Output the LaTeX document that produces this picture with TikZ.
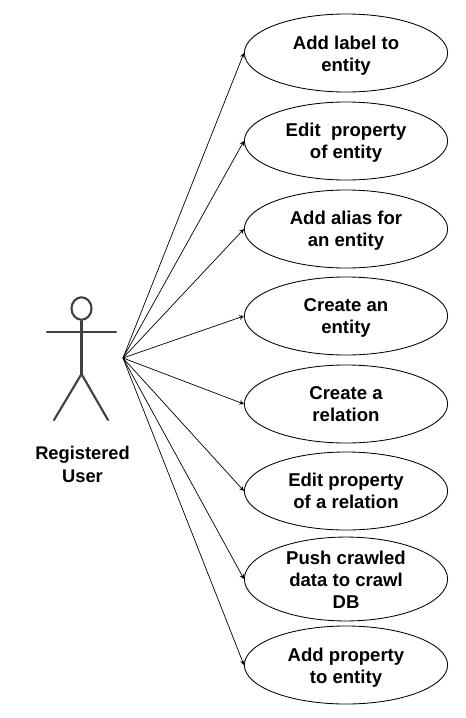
\documentclass[tikz,border=0pt]{standalone}
\usepackage{fontspec}
\setmainfont{Liberation Sans}
\usetikzlibrary{arrows,shapes.geometric}
\newcommand{\droptext}[1]{\rule{0pt}{#1}}
\tikzset{
  usecase/.style={draw,ellipse,line width=0.6pt,inner sep=0pt,minimum width=5.08cm,minimum height=1.95cm,align=center,font=\fontsize{13.2}{15.6}\selectfont\bfseries},
  stick/.style={draw=black!75,line width=1.5pt,line cap=round},
  actorname/.style={align=center,font=\fontsize{13}{16}\selectfont\bfseries}
}
\begin{document}
\begin{tikzpicture}[>=stealth,x=0.025cm,y=-0.025cm]
\useasboundingbox (0,0) rectangle (466,718);
\node[usecase] (label) at (346,53) {\droptext{13.9pt}Add label to\\entity};
\node[usecase] (editprop) at (346,141) {\droptext{12.4pt}Edit\ \ property\\of entity};
\node[usecase] (alias) at (346,229) {\droptext{12.4pt}Add alias for\\an entity};
\node[usecase] (create) at (346,316) {\droptext{12.4pt}Create an\\entity};
\node[usecase] (relation) at (346,404) {Create a\\relation};
\node[usecase] (editrel) at (346,491) {Edit property\\of a relation};
\node[usecase] (push) at (346,579) {\droptext{11pt}Push crawled\\data to crawl\\DB};
\node[usecase] (addprop) at (346,665) {\droptext{13.9pt}Add property\\to entity};
% actor
\node[stick,ellipse,inner sep=0pt,minimum width=0.5cm,minimum height=0.56cm] (head) at (81.5,308.5) {};
\coordinate (armleft) at (47,332);
\coordinate (armright) at (116,332);
\coordinate (hip) at (81.5,374);
\coordinate (footleft) at (54,420);
\coordinate (footright) at (108,420);
\draw[stick] (head.south) -- (hip);
\draw[stick] (armleft) -- (armright);
\draw[stick] (footleft) -- (hip) -- (footright);
\node[actorname] (user) at (82.5,464.5) {Registered\\User};
\coordinate (hub) at (123,358);
\foreach \uc in {label,editprop,alias,create,relation,editrel,push,addprop}
  \draw[->,line width=0.5pt] (hub) -- (\uc.west);
\end{tikzpicture}
\end{document}
